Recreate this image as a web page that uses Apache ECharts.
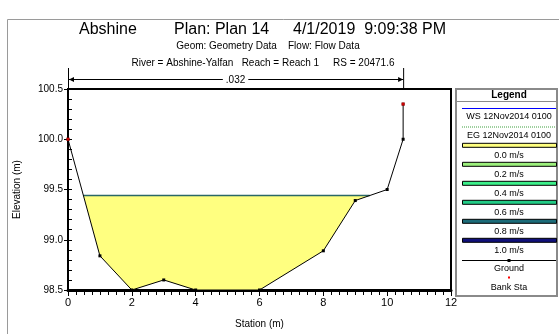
<!DOCTYPE html>
<html>
<head>
<meta charset="utf-8">
<script src="https://cdn.jsdelivr.net/npm/echarts@6/dist/echarts.min.js"></script>
<style>
  html, body { margin: 0; padding: 0; background: #fff; }
  #chart { width: 559px; height: 334px; }
</style>
</head>
<body>
<div id="chart"></div>
<script>
// Cross section geometry (station, elevation)
const groundStations = [0, 1, 2, 3, 4, 6, 8, 9, 10, 10.5, 10.5];
const groundElevations = [100.0, 98.84, 98.5, 98.6, 98.5, 98.5, 98.89, 99.39, 99.5, 100.0, 100.35];
const bankStations = [0, 10.5];
const bankElevations = [100.0, 100.35];
// Water surface / energy grade for the profile
const wsElevation = 99.44;
const egElevation = 99.44;
// Manning's n region
const nValueLabel = '.032';
const nRegion = [0, 10.5];
// Axis ticks
const xTicks = [0, 2, 4, 6, 8, 10, 12];
const yTicks = [98.5, 99.0, 99.5, 100.0, 100.5];
// Legend entries
const velocityLabels = ['0.0 m/s', '0.2 m/s', '0.4 m/s', '0.6 m/s', '0.8 m/s', '1.0 m/s'];
const velocityColors = ['#ffff80', '#9cf07c', '#3cf08a', '#22cc86', '#1c6b78', '#10107a'];
const profileName = '12Nov2014 0100';

const FONT = "'Liberation Sans', Arial, sans-serif";

const groundData = groundStations.map((s, i) => [s, groundElevations[i]]);

// Wetted polygon: ground below the water surface, bounded by its crossings
function flowPolygon(ws) {
  const pts = [];
  let inWater = false;
  for (let i = 0; i < groundData.length - 1; i++) {
    const [x0, y0] = groundData[i];
    const [x1, y1] = groundData[i + 1];
    if (!inWater && y0 >= ws && y1 < ws) {
      const t = (y0 - ws) / (y0 - y1);
      pts.push([x0 + t * (x1 - x0), ws]);
      inWater = true;
    }
    if (inWater && y1 < ws) pts.push([x1, y1]);
    if (inWater && y0 < ws && y1 >= ws) {
      const t = (ws - y0) / (y1 - y0);
      pts.push([x0 + t * (x1 - x0), ws]);
      break;
    }
  }
  return pts;
}
const wetted = flowPolygon(wsElevation);
const wsLine = [wetted[0], wetted[wetted.length - 1]];

const chart = echarts.init(document.getElementById('chart'));

const xMin = xTicks[0], xMax = xTicks[xTicks.length - 1];
const yMin = yTicks[0], yMax = yTicks[yTicks.length - 1];

const option = {
  animation: false,
  backgroundColor: '#fff',
  textStyle: { fontFamily: FONT },
  grid: {
    left: 68, top: 89, width: 383, height: 208,
    show: true, borderColor: '#000', borderWidth: 2, backgroundColor: '#fff'
  },
  xAxis: [
    {
      type: 'value', min: xMin, max: xMax, interval: 2,
      name: 'Station (m)', nameLocation: 'middle', nameGap: 29,
      nameTextStyle: { fontSize: 10, color: '#000', fontFamily: FONT },
      axisLine: { show: true, onZero: false, lineStyle: { color: '#000', width: 3 } },
      axisTick: { show: true, length: 6, lineStyle: { color: '#000' } },
      splitLine: { show: false },
      axisLabel: { fontSize: 11, color: '#000', margin: 7, fontFamily: FONT }
    },
    {
      // minor ticks every 0.25 m
      type: 'value', min: xMin, max: xMax, interval: 0.25, position: 'bottom',
      axisLine: { show: false, onZero: false },
      axisTick: { show: true, length: 5, lineStyle: { color: '#000' } },
      axisLabel: { show: false }, splitLine: { show: false }
    }
  ],
  yAxis: [
    {
      type: 'value', min: yMin, max: yMax, interval: 0.5,
      name: 'Elevation (m)', nameLocation: 'middle', nameGap: 46,
      nameTextStyle: { fontSize: 10, color: '#000', fontFamily: FONT },
      axisLine: { show: true, onZero: false, lineStyle: { color: '#000', width: 2 } },
      axisTick: { show: true, length: 4, lineStyle: { color: '#000' } },
      splitLine: { show: false },
      axisLabel: { fontSize: 10, color: '#000', margin: 5, fontFamily: FONT,
        formatter: v => v.toFixed(1) }
    },
    {
      // minor ticks every 0.1 m
      type: 'value', min: yMin, max: yMax, interval: 0.1, position: 'left',
      axisLine: { show: false, onZero: false },
      axisTick: { show: true, inside: true, length: 4, lineStyle: { color: '#000' } },
      axisLabel: { show: false }, splitLine: { show: false }
    }
  ],
  series: [
    {
      type: 'custom',
      name: 'flow',
      silent: true,
      z: 1,
      data: [0],
      renderItem: function (params, api) {
        const points = wetted.map(p => api.coord(p));
        return {
          type: 'polygon',
          shape: { points: points },
          style: { fill: velocityColors[0], stroke: null }
        };
      }
    },
    {
      type: 'line', name: 'EG ' + profileName, data: wsLine.map(p => [p[0], egElevation]),
      symbol: 'none', z: 2,
      lineStyle: { color: '#7fc07f', width: 1, type: 'dotted' }
    },
    {
      type: 'line', name: 'WS ' + profileName, data: wsLine,
      symbol: 'none', z: 3,
      lineStyle: { color: '#2b6866', width: 1.5 }
    },
    {
      type: 'line', name: 'Ground', data: groundData,
      symbol: 'rect', symbolSize: 3, showSymbol: true, z: 4,
      itemStyle: { color: '#000' },
      lineStyle: { color: '#000', width: 1 }
    },
    {
      type: 'scatter', name: 'Bank Sta',
      data: bankStations.map((s, i) => [s, bankElevations[i]]),
      symbol: 'rect', symbolSize: 3, z: 5,
      itemStyle: { color: '#ff0000' }
    }
  ]
};
chart.setOption(option);

// Title block, legend panel and n-value bracket
const nx0 = chart.convertToPixel({ xAxisIndex: 0 }, nRegion[0]);
const nx1 = chart.convertToPixel({ xAxisIndex: 0 }, nRegion[1]);
const nY = 79;
const g = [];

// outer frame
g.push({ type: 'polyline', shape: { points: [[7.5, 334], [7.5, 19.5], [559, 19.5]] },
  style: { stroke: '#9a9a9a', lineWidth: 1, fill: null }, z: 10 });

// titles
g.push({ type: 'text', left: 79, top: 22, style: { text: 'Abshine', font: '16px ' + FONT, fill: '#000' }, z: 10 });
g.push({ type: 'text', left: 174, top: 22, style: { text: 'Plan: Plan 14', font: '16px ' + FONT, fill: '#000' }, z: 10 });
g.push({ type: 'text', left: 293, top: 22, style: { text: '4/1/2019  9:09:38 PM', font: '16px ' + FONT, fill: '#000' }, z: 10 });
g.push({ type: 'text', x: 268, y: 46, style: { text: 'Geom: Geometry Data    Flow: Flow Data', font: '10px ' + FONT, fill: '#000', align: 'center', verticalAlign: 'middle' }, z: 10 });
g.push({ type: 'text', x: 263, y: 63, style: { text: 'River = Abshine-Yalfan   Reach = Reach 1     RS = 20471.6', font: '10px ' + FONT, fill: '#000', align: 'center', verticalAlign: 'middle' }, z: 10 });

// n-value bracket
g.push({ type: 'line', shape: { x1: nx0 + 0.5, y1: 68, x2: nx0 + 0.5, y2: 89 }, style: { stroke: '#000', lineWidth: 1 }, z: 10 });
g.push({ type: 'line', shape: { x1: nx1 + 0.5, y1: 68, x2: nx1 + 0.5, y2: 89 }, style: { stroke: '#000', lineWidth: 1 }, z: 10 });
g.push({ type: 'line', shape: { x1: nx0 + 1, y1: nY + 0.5, x2: nx1, y2: nY + 0.5 }, style: { stroke: '#000', lineWidth: 1 }, z: 10 });
g.push({ type: 'polygon', shape: { points: [[nx0 + 1, nY + 0.5], [nx0 + 6, nY - 2], [nx0 + 6, nY + 3]] }, style: { fill: '#000' }, z: 10 });
g.push({ type: 'polygon', shape: { points: [[nx1, nY + 0.5], [nx1 - 5, nY - 2], [nx1 - 5, nY + 3]] }, style: { fill: '#000' }, z: 10 });
g.push({ type: 'text', x: (nx0 + nx1) / 2, y: nY + 1, style: { text: nValueLabel, font: '10px ' + FONT, fill: '#000', align: 'center', verticalAlign: 'middle', backgroundColor: '#fff', padding: [0, 3] }, z: 11 });

// legend panel
const LX = 456, LW = 101, LC = 509;
g.push({ type: 'rect', shape: { x: LX, y: 89, width: LW, height: 207 }, style: { fill: '#fff', stroke: '#8a8a8a', lineWidth: 2 }, z: 10 });
g.push({ type: 'text', x: LC, y: 95, style: { text: 'Legend', font: 'bold 10px ' + FONT, fill: '#000', align: 'center', verticalAlign: 'middle' }, z: 11 });
g.push({ type: 'line', shape: { x1: LX, y1: 101.5, x2: LX + LW, y2: 101.5 }, style: { stroke: '#8a8a8a', lineWidth: 1 }, z: 11 });
g.push({ type: 'line', shape: { x1: 462, y1: 108.5, x2: 556, y2: 108.5 }, style: { stroke: '#0000ff', lineWidth: 1 }, z: 11 });
g.push({ type: 'text', x: LC, y: 117, style: { text: 'WS ' + profileName, font: '9px ' + FONT, fill: '#000', align: 'center', verticalAlign: 'middle' }, z: 11 });
g.push({ type: 'line', shape: { x1: 462, y1: 127, x2: 556, y2: 127 }, style: { stroke: '#7fc07f', lineWidth: 1.5, lineDash: [1, 1] }, z: 11 });
g.push({ type: 'text', x: LC, y: 135.5, style: { text: 'EG ' + profileName, font: '9px ' + FONT, fill: '#000', align: 'center', verticalAlign: 'middle' }, z: 11 });
velocityLabels.forEach((lab, i) => {
  const by = 145.3 + i * 19;
  g.push({ type: 'rect', shape: { x: 462.5, y: by - 2, width: 94, height: 4 }, style: { fill: velocityColors[i], stroke: '#000', lineWidth: 1 }, z: 11 });
  g.push({ type: 'text', x: LC, y: by + 10, style: { text: lab, font: '9px ' + FONT, fill: '#000', align: 'center', verticalAlign: 'middle' }, z: 11 });
});
g.push({ type: 'line', shape: { x1: 462, y1: 260.5, x2: 556, y2: 260.5 }, style: { stroke: '#000', lineWidth: 1 }, z: 11 });
g.push({ type: 'rect', shape: { x: LC - 1.5, y: 259, width: 3, height: 3 }, style: { fill: '#000' }, z: 11 });
g.push({ type: 'text', x: LC, y: 269, style: { text: 'Ground', font: '9px ' + FONT, fill: '#000', align: 'center', verticalAlign: 'middle' }, z: 11 });
g.push({ type: 'rect', shape: { x: LC - 1, y: 276.5, width: 2, height: 2 }, style: { fill: '#ff0000' }, z: 11 });
g.push({ type: 'text', x: LC, y: 287.5, style: { text: 'Bank Sta', font: '9px ' + FONT, fill: '#000', align: 'center', verticalAlign: 'middle' }, z: 11 });

chart.setOption({ graphic: { elements: g } });
</script>
</body>
</html>
